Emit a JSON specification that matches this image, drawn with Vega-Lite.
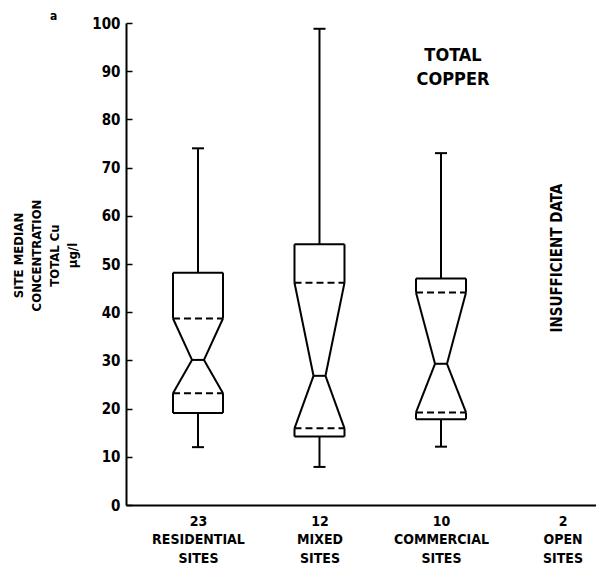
{
  "$schema": "https://vega.github.io/schema/vega-lite/v6.json",
  "width": 470,
  "height": 482,
  "autosize": {"type": "none"},
  "padding": {"left": 126, "top": 23, "right": 0, "bottom": 65},
  "background": "white",
  "title": {"text": "a", "anchor": "start", "frame": "group", "dx": -76, "offset": -19, "baseline": "bottom", "fontSize": 12, "font": "DejaVu Sans Condensed, Roboto, sans-serif", "fontWeight": "bold"},
  "data": {
    "values": [
      {"site": "23 RESIDENTIAL SITES", "whisker_low": 12, "q1": 19.1, "ci_low": 23.2, "median": 30.1, "ci_high": 38.7, "q3": 48.2, "whisker_high": 74, "note": null},
      {"site": "12 MIXED SITES", "whisker_low": 7.9, "q1": 14.2, "ci_low": 15.9, "median": 26.8, "ci_high": 46.1, "q3": 54.1, "whisker_high": 98.8, "note": null},
      {"site": "10 COMMERCIAL SITES", "whisker_low": 12.1, "q1": 17.8, "ci_low": 19.2, "median": 29.3, "ci_high": 44.1, "q3": 47.0, "whisker_high": 73, "note": null},
      {"site": "2 OPEN SITES", "whisker_low": null, "q1": null, "ci_low": null, "median": null, "ci_high": null, "q3": null, "whisker_high": null, "note": "INSUFFICIENT DATA"}
    ]
  },
  "encoding": {
    "x": {
      "field": "site", "type": "nominal", "sort": null,
      "scale": {"type": "point", "padding": 0.434, "align": 0.6825},
      "axis": {
        "title": null, "ticks": false, "domainWidth": 2, "domainColor": "black",
        "labelAngle": 0, "labelExpr": "split(datum.label, ' ')",
        "labelFont": "DejaVu Sans Condensed, Roboto, sans-serif", "labelFontWeight": "bold", "labelFontSize": 14,
        "labelLineHeight": 18.5, "labelPadding": 9, "labelColor": "black"
      }
    }
  },
  "layer": [
    {"mark": {"type": "rule"}, "encoding": {
      "y": {"field": "q3", "type": "quantitative", "scale": {"domain": [0, 100], "nice": false},
        "axis": {
          "title": ["SITE MEDIAN", "CONCENTRATION", "TOTAL Cu", "µg/l"],
          "titleFont": "DejaVu Sans Condensed, Roboto, sans-serif", "titleFontWeight": "bold", "titleFontSize": 13,
          "titleLineHeight": 18, "titlePadding": 12, "titleColor": "black", "titleY": 232,
          "values": [0, 10, 20, 30, 40, 50, 60, 70, 80, 90, 100],
          "grid": false, "domainWidth": 2, "domainColor": "black",
          "tickSize": -6, "tickWidth": 1.5, "tickColor": "black",
          "labelFont": "DejaVu Sans Condensed, Roboto, sans-serif", "labelFontWeight": "bold", "labelFontSize": 15,
          "labelPadding": 12, "labelColor": "black"
        }},
      "y2": {"field": "whisker_high"}}},
    {"mark": {"type": "rule"}, "encoding": {"y": {"field": "whisker_low", "type": "quantitative"}, "y2": {"field": "q1"}}},
    {"mark": {"type": "rule", "xOffset": -6, "x2Offset": 6}, "encoding": {"x2": {"field": "site"}, "y": {"field": "whisker_high", "type": "quantitative"}}},
    {"mark": {"type": "rule", "xOffset": -6, "x2Offset": 6}, "encoding": {"x2": {"field": "site"}, "y": {"field": "whisker_low", "type": "quantitative"}}},
    {"mark": {"type": "rule", "xOffset": -25, "x2Offset": 25}, "encoding": {"x2": {"field": "site"}, "y": {"field": "q3", "type": "quantitative"}}},
    {"mark": {"type": "rule", "xOffset": -25, "x2Offset": 25}, "encoding": {"x2": {"field": "site"}, "y": {"field": "q1", "type": "quantitative"}}},
    {"mark": {"type": "rule", "xOffset": -25}, "encoding": {"y": {"field": "ci_high", "type": "quantitative"}, "y2": {"field": "q3"}}},
    {"mark": {"type": "rule", "xOffset": 25}, "encoding": {"y": {"field": "ci_high", "type": "quantitative"}, "y2": {"field": "q3"}}},
    {"mark": {"type": "rule", "xOffset": -25}, "encoding": {"y": {"field": "q1", "type": "quantitative"}, "y2": {"field": "ci_low"}}},
    {"mark": {"type": "rule", "xOffset": 25}, "encoding": {"y": {"field": "q1", "type": "quantitative"}, "y2": {"field": "ci_low"}}},
    {"mark": {"type": "rule", "xOffset": -25, "x2Offset": -6}, "encoding": {"x2": {"field": "site"}, "y": {"field": "ci_high", "type": "quantitative"}, "y2": {"field": "median"}}},
    {"mark": {"type": "rule", "xOffset": 25, "x2Offset": 6}, "encoding": {"x2": {"field": "site"}, "y": {"field": "ci_high", "type": "quantitative"}, "y2": {"field": "median"}}},
    {"mark": {"type": "rule", "xOffset": -25, "x2Offset": -6}, "encoding": {"x2": {"field": "site"}, "y": {"field": "ci_low", "type": "quantitative"}, "y2": {"field": "median"}}},
    {"mark": {"type": "rule", "xOffset": 25, "x2Offset": 6}, "encoding": {"x2": {"field": "site"}, "y": {"field": "ci_low", "type": "quantitative"}, "y2": {"field": "median"}}},
    {"mark": {"type": "rule", "xOffset": -6, "x2Offset": 6}, "encoding": {"x2": {"field": "site"}, "y": {"field": "median", "type": "quantitative"}}},
    {"mark": {"type": "rule", "xOffset": -25, "x2Offset": 25, "strokeDash": [7, 4]}, "encoding": {"x2": {"field": "site"}, "y": {"field": "ci_high", "type": "quantitative"}}},
    {"mark": {"type": "rule", "xOffset": -25, "x2Offset": 25, "strokeDash": [7, 4]}, "encoding": {"x2": {"field": "site"}, "y": {"field": "ci_low", "type": "quantitative"}}},
    {"transform": [{"filter": "datum.note != null"}],
     "mark": {"type": "text", "angle": 270, "xOffset": -6, "align": "center", "baseline": "middle", "font": "DejaVu Sans Condensed, Roboto, sans-serif", "fontWeight": "bold", "fontSize": 15, "color": "black"},
     "encoding": {"text": {"field": "note"}, "y": {"datum": 51.2, "type": "quantitative"}}},
    {"data": {"values": [{"label": ["TOTAL", "COPPER"]}]},
     "mark": {"type": "text", "xOffset": 12, "align": "center", "baseline": "middle", "lineHeight": 24, "font": "DejaVu Sans Condensed, Roboto, sans-serif", "fontWeight": "bold", "fontSize": 18, "color": "black"},
     "encoding": {"x": {"datum": "10 COMMERCIAL SITES"}, "text": {"field": "label"}, "y": {"datum": 93.2, "type": "quantitative"}}}
  ],
  "config": {
    "view": {"stroke": null},
    "rule": {"strokeWidth": 2, "color": "black"}
  }
}
